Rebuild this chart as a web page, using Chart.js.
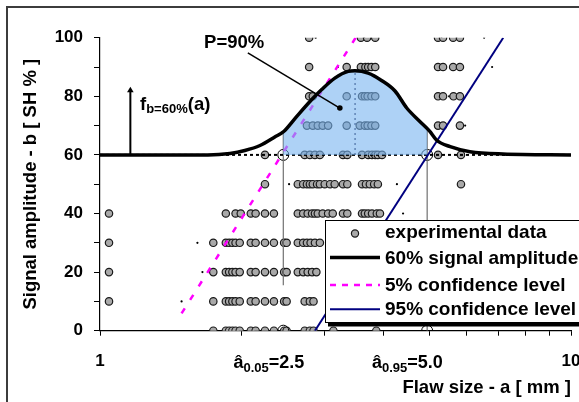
<!DOCTYPE html>
<html><head><meta charset="utf-8">
<script src="https://cdn.jsdelivr.net/npm/chart.js@4.4.1/dist/chart.umd.min.js"></script>
<style>html,body{margin:0;padding:0;background:#fff}canvas{display:block}</style>
</head><body>
<canvas id="c" width="579" height="402"></canvas>
<script>
// ---------- data ----------
const sizesAt100 = [2.78, 3.58, 3.69, 3.84, 5.22, 5.35, 5.62, 5.81];
const sizesAt90 = [2.78, 3.34, 3.58, 3.66, 3.71, 3.77, 3.84, 5.22, 5.35, 5.62, 5.81];
const sizesAt80 = [2.78, 2.83, 3.34, 3.60, 3.65, 3.70, 3.77, 3.84, 5.22, 5.35, 5.63, 5.81];
const sizesAt70 = [2.75, 2.83, 2.90, 2.97, 3.05, 3.34, 3.56, 3.65, 3.70, 3.77, 3.84, 5.22, 5.35, 5.81];
const sizesAt60 = [2.24, 2.72, 2.79, 2.86, 2.93, 3.28, 3.35, 3.60, 3.71, 3.78, 3.84, 3.89, 3.97, 5.22, 5.84];
const sizesAt50 = [2.24, 2.63, 2.70, 2.75, 2.79, 2.83, 2.89, 2.93, 3.00, 3.08, 3.15, 3.28, 3.35, 3.60, 3.67, 3.74, 3.82, 3.89, 5.84];
const sizesAt40 = [1.045, 1.85, 1.94, 1.99, 2.09, 2.14, 2.24, 2.34, 2.63, 2.70, 2.76, 2.82, 2.86, 2.90, 2.97, 3.05, 3.12, 3.28, 3.35, 3.60, 3.65, 3.71, 3.78, 3.87, 3.93];
const sizesAt30 = [1.045, 1.74, 1.85, 1.88, 1.91, 1.94, 1.98, 2.09, 2.14, 2.24, 2.34, 2.46, 2.49, 2.63, 2.70, 2.75, 2.80, 2.86, 2.93];
const sizesAt20 = [1.045, 1.74, 1.85, 1.88, 1.91, 1.94, 1.98, 2.09, 2.14, 2.24, 2.34, 2.46, 2.49, 2.63, 2.70, 2.76, 2.82, 2.88];
const sizesAt10 = [1.045, 1.74, 1.85, 1.88, 1.91, 1.94, 1.98, 2.09, 2.14, 2.24, 2.34, 2.46, 2.49, 2.72, 2.79, 2.84];
const sizesAt0 = [1.74, 1.85, 1.88, 1.91, 1.94, 1.98, 2.09, 2.14, 2.24, 2.34, 2.46, 2.49, 2.72, 2.79, 2.84, 3.13, 3.86];
const amplitudeLevels = [100, 90, 80, 70, 60, 50, 40, 30, 20, 10, 0];

const dotSizes = [2.87, 6.54, 3.20, 6.80, 5.51, 5.96, 2.52, 4.27, 4.40, 1.61, 1.65, 1.49];
const dotAmps = [100, 100, 90, 90, 80, 70, 50, 50, 40, 30, 20, 10];

const curveSizes = [1, 1.695, 1.888, 2.03, 2.186, 2.35, 2.455, 2.593, 2.813, 2.956, 3.152, 3.365, 3.477, 3.71, 3.96, 4.23, 4.48, 4.77, 5.01, 5.18, 5.54, 6.10, 7.17, 10];
const curveAmps = [60, 60, 60.5, 61.5, 63.2, 66.1, 68.0, 72.4, 78.8, 82.3, 86.2, 88.5, 88.7, 87.9, 85.4, 81.8, 76.0, 71.5, 68.1, 65.1, 62.8, 61.1, 60.3, 60];

const a005 = 2.45, a095 = 4.95;          // positions of the marked sizes
const threshold = 60;
const peakSize = 3.48, peakAmp = 88.5;
const a005Top = 67.9, a005Bottom = 15.5, a095Top = 68.9, a095Bottom = 0;

const conf5Sizes = [1.49, 3.49], conf5Amps = [5.9, 100];
const conf95Sizes = [2.86, 7.18], conf95Amps = [0, 100];

const leaderSizes = [2.06, 3.23], leaderAmps = [94.8, 76];
const arrowSizes = [1.16, 1.16], arrowAmps = [60, 82];

const xTickValues = [1, 2, 3, 4, 5, 6, 7, 8, 9, 10];
const xTickShown = [1, 10];
const yTickValues = [0, 10, 20, 30, 40, 50, 60, 70, 80, 90, 100];
const yTickShown = [0, 20, 40, 60, 80, 100];

const legendLabels = ['experimental data', '60% signal amplitude', '5% confidence level', '95% confidence level'];

// ---------- chart ----------
const FONT = '"Liberation Sans", Arial, Helvetica, sans-serif';
Chart.defaults.font.family = FONT;
Chart.defaults.font.weight = 'bold';
Chart.defaults.color = '#000';

const pts = (xs, ys) => xs.map((x, i) => ({x, y: ys[i]}));
const rowSizes = [sizesAt100, sizesAt90, sizesAt80, sizesAt70, sizesAt60, sizesAt50, sizesAt40, sizesAt30, sizesAt20, sizesAt10, sizesAt0];
const expPoints = [];
amplitudeLevels.forEach((amp, i) => rowSizes[i].forEach(s => expPoints.push({x: s, y: amp})));

const GREY_PT = '#a9a9a9';

function drawRich(ctx, x, y, parts) {
  let cx = x;
  parts.forEach(p => {
    ctx.font = 'bold ' + p.size + 'px ' + FONT;
    ctx.fillText(p.t, cx, y + (p.dy || 0));
    cx += ctx.measureText(p.t).width;
  });
}

const overlay = {
  id: 'overlay',
  beforeDraw(chart) {
    const c = chart.ctx;
    c.save();
    c.fillStyle = '#fff';
    c.fillRect(0, 0, chart.width, chart.height);
    c.strokeStyle = '#3c3c3c';
    c.lineWidth = 2;
    c.strokeRect(7, 7, chart.width + 20, chart.height + 20);
    c.restore();
  },
  afterDatasetsDraw(chart) {
    const c = chart.ctx, ca = chart.chartArea;
    const L = ca.left + 225, T = ca.top + 182.3, W = 300, H = 102;
    c.save();
    c.fillStyle = '#000';
    c.fillRect(L + 3, T + 4.5, W, H);
    c.fillStyle = '#fff';
    c.fillRect(L, T, W, H);
    c.strokeStyle = '#000';
    c.lineWidth = 1;
    c.strokeRect(L + 0.5, T + 0.5, W, H);
    // symbols
    c.beginPath();
    c.arc(L + 30, T + 13.5, 3.6, 0, Math.PI * 2);
    c.fillStyle = GREY_PT; c.fill();
    c.lineWidth = 1.2; c.strokeStyle = '#1a1a1a'; c.stroke();
    const line = (y, color, w, dash) => {
      c.beginPath(); c.setLineDash(dash); c.strokeStyle = color; c.lineWidth = w;
      c.moveTo(L + 5, y); c.lineTo(L + 55, y); c.stroke(); c.setLineDash([]);
    };
    line(T + 37.5, '#000', 3.5, []);
    line(T + 65, '#ff00ff', 2.5, [6, 6]);
    line(T + 89.3, '#000080', 2, []);
    c.fillStyle = '#000';
    c.font = 'bold 19px ' + FONT;
    c.textAlign = 'left';
    c.textBaseline = 'alphabetic';
    const base = [T + 18.3, T + 44.3, T + 70.5, T + 94.5];
    legendLabels.forEach((t, i) => c.fillText(t, L + 60, base[i]));
    c.restore();
  },
  afterDraw(chart) {
    const c = chart.ctx, xs = chart.scales.x, ys = chart.scales.y, ca = chart.chartArea;
    c.save();
    c.fillStyle = '#000';
    c.textAlign = 'left';
    c.textBaseline = 'alphabetic';
    drawRich(c, xs.getPixelForValue(1.663), ys.getPixelForValue(96.5), [{t: 'P=90%', size: 18.5}]);
    drawRich(c, xs.getPixelForValue(1.216), ys.getPixelForValue(75.3), [
      {t: 'f', size: 18.5}, {t: 'b=60%', size: 13, dy: 3}, {t: '(a)', size: 18.5}]);
    const yb = ca.bottom + 37.3;
    drawRich(c, xs.getPixelForValue(1.92), yb, [{t: 'â', size: 18}, {t: '0.05', size: 13, dy: 3.5}, {t: '=2.5', size: 18}]);
    drawRich(c, xs.getPixelForValue(3.78), yb, [{t: 'â', size: 18}, {t: '0.95', size: 13, dy: 3.5}, {t: '=5.0', size: 18}]);
    c.restore();
  }
};

new Chart(document.getElementById('c'), {
  type: 'scatter',
  data: {
    datasets: [
      { label: legendLabels[1], data: pts(curveSizes, curveAmps), showLine: true, borderColor: '#000', borderWidth: 3.5,
        pointRadius: 0, cubicInterpolationMode: 'monotone', fill: {target: 1}, backgroundColor: 'rgba(120,180,240,0.6)', order: 0 },
      { label: 'P=90% base', data: pts([a005, a095], [threshold, threshold]), showLine: true, borderWidth: 0,
        borderColor: 'rgba(0,0,0,0)', pointRadius: 0, order: 9 },
      { label: legendLabels[0], data: expPoints, pointRadius: 3.7, pointBackgroundColor: GREY_PT,
        pointBorderColor: '#1a1a1a', pointBorderWidth: 1.2, order: 6 },
      { label: 'single readings', data: pts(dotSizes, dotAmps), pointRadius: 1.1, pointBackgroundColor: '#000',
        pointBorderWidth: 0, order: 6 },
      { label: legendLabels[2], data: pts(conf5Sizes, conf5Amps), showLine: true, borderColor: '#ff00ff', borderWidth: 2.5,
        borderDash: [6, 10], pointRadius: 0, order: 3 },
      { label: legendLabels[3], data: pts(conf95Sizes, conf95Amps), showLine: true, borderColor: '#000080', borderWidth: 2,
        pointRadius: 0, order: 3 },
      { label: 'threshold', data: pts([1, 10], [threshold, threshold]), showLine: true, borderColor: '#000', borderWidth: 2,
        borderDash: [3, 3], pointRadius: 0, order: 4 },
      { label: 'â0.05', data: pts([a005, a005], [a005Top, a005Bottom]), showLine: true, borderColor: '#707070', borderWidth: 1.2,
        pointRadius: 0, order: 4 },
      { label: 'â0.95', data: pts([a095, a095], [a095Top, a095Bottom]), showLine: true, borderColor: '#707070', borderWidth: 1.2,
        pointRadius: 0, order: 4 },
      { label: 'peak', data: pts([peakSize, peakSize], [threshold, peakAmp]), showLine: true, borderColor: '#3a3a5a', borderWidth: 1.5,
        borderDash: [2, 3], pointRadius: 0, order: 4 },
      { label: 'marks', data: pts([a005, a095, a005, a095], [threshold, threshold, 0, 0]), pointRadius: 5.5,
        pointBackgroundColor: 'rgba(255,255,255,0)', pointBorderColor: '#000', pointBorderWidth: 1, order: 5 },
      { label: 'P=90% leader', data: pts(leaderSizes, leaderAmps), showLine: true, borderColor: '#000', borderWidth: 1.5,
        pointRadius: [0, 2.8], pointBackgroundColor: '#000', pointBorderWidth: 0, order: -1 },
      { label: 'f arrow', data: pts(arrowSizes, arrowAmps), showLine: true, borderColor: '#000', borderWidth: 2,
        pointRadius: [0, 3.8], pointStyle: 'triangle', pointBackgroundColor: '#000', pointBorderColor: '#000',
        pointBorderWidth: 0, order: -1 }
    ]
  },
  options: {
    responsive: false,
    animation: false,
    events: [],
    layout: { padding: { left: 0, top: 37.7, right: 8, bottom: 0 } },
    plugins: { legend: { display: false }, tooltip: { enabled: false } },
    scales: {
      x: {
        type: 'logarithmic', min: 1, max: 10,
        afterBuildTicks: s => { s.ticks = xTickValues.map(v => ({value: v})); },
        afterFit: s => { s.height = 71.3; s.paddingLeft = 0; s.paddingRight = 0; },
        ticks: { autoSkip: false, maxRotation: 0, padding: 15, font: { size: 17, weight: 'bold' },
          callback: v => xTickShown.includes(v) ? String(v) : '' },
        grid: { display: true, drawOnChartArea: false, drawTicks: true, tickLength: 5, color: '#000' },
        border: { display: true, color: '#000', width: 1.2 },
        title: { display: true, text: 'Flaw size - a [ mm ]', align: 'end', font: { size: 18.5, weight: 'bold' },
          padding: { top: 0, bottom: 3 } }
      },
      y: {
        min: 0, max: 100,
        afterBuildTicks: s => { s.ticks = yTickValues.map(v => ({value: v})); },
        afterFit: s => { s.width = 100; },
        ticks: { autoSkip: false, padding: 11, font: { size: 17, weight: 'bold' },
          callback: v => yTickShown.includes(v) ? String(v) : '' },
        grid: { display: true, drawOnChartArea: false, drawTicks: true, tickLength: 6, color: '#000' },
        border: { display: true, color: '#000', width: 1.2 },
        title: { display: true, text: 'Signal amplitude - b [ SH % ]', font: { size: 18.5, weight: 'bold' },
          padding: { top: 20, bottom: 0 } }
      }
    }
  },
  plugins: [overlay]
});
</script>
</body></html>
